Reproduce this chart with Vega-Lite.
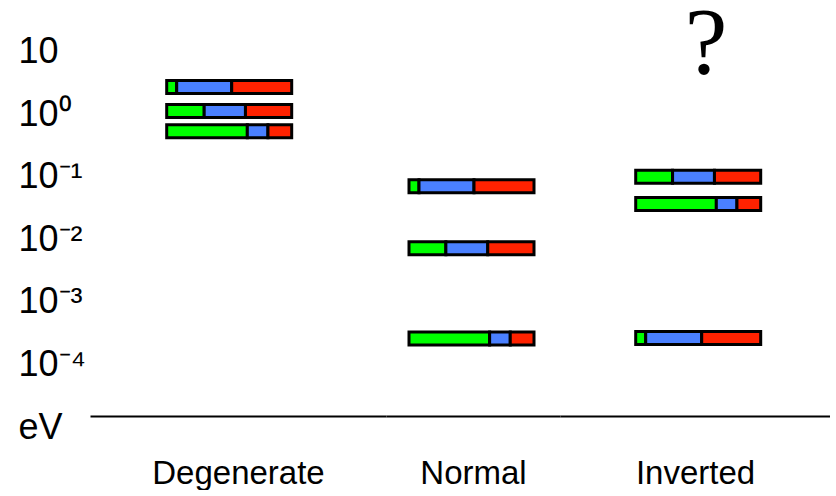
{
  "$schema": "https://vega.github.io/schema/vega-lite/v6.json",
  "padding": {"left": 18, "top": 0, "right": 0, "bottom": 0},
  "config": {"view": {"stroke": null}, "font": "Liberation Sans"},
  "spacing": 0,
  "bounds": "flush",
  "resolve": {"scale": {"x": "independent", "y": "independent", "color": "independent"}, "axis": {"x": "independent", "y": "independent"}},
  "datasets": {
    "bars": [
      {"scheme": "Degenerate", "state": "m3", "mass": 2.74, "flavor": "e", "frac": 0.08},
      {"scheme": "Degenerate", "state": "m3", "mass": 2.74, "flavor": "mu", "frac": 0.44},
      {"scheme": "Degenerate", "state": "m3", "mass": 2.74, "flavor": "tau", "frac": 0.48},
      {"scheme": "Degenerate", "state": "m2", "mass": 1.13, "flavor": "e", "frac": 0.3},
      {"scheme": "Degenerate", "state": "m2", "mass": 1.13, "flavor": "mu", "frac": 0.33},
      {"scheme": "Degenerate", "state": "m2", "mass": 1.13, "flavor": "tau", "frac": 0.37},
      {"scheme": "Degenerate", "state": "m1", "mass": 0.537, "flavor": "e", "frac": 0.645},
      {"scheme": "Degenerate", "state": "m1", "mass": 0.537, "flavor": "mu", "frac": 0.165},
      {"scheme": "Degenerate", "state": "m1", "mass": 0.537, "flavor": "tau", "frac": 0.19},
      {"scheme": "Normal", "state": "m3", "mass": 0.0711, "flavor": "e", "frac": 0.08},
      {"scheme": "Normal", "state": "m3", "mass": 0.0711, "flavor": "mu", "frac": 0.44},
      {"scheme": "Normal", "state": "m3", "mass": 0.0711, "flavor": "tau", "frac": 0.48},
      {"scheme": "Normal", "state": "m2", "mass": 0.00724, "flavor": "e", "frac": 0.295},
      {"scheme": "Normal", "state": "m2", "mass": 0.00724, "flavor": "mu", "frac": 0.335},
      {"scheme": "Normal", "state": "m2", "mass": 0.00724, "flavor": "tau", "frac": 0.37},
      {"scheme": "Normal", "state": "m1", "mass": 0.000261, "flavor": "e", "frac": 0.645},
      {"scheme": "Normal", "state": "m1", "mass": 0.000261, "flavor": "mu", "frac": 0.165},
      {"scheme": "Normal", "state": "m1", "mass": 0.000261, "flavor": "tau", "frac": 0.19},
      {"scheme": "Inverted", "state": "m2", "mass": 0.101, "flavor": "e", "frac": 0.295},
      {"scheme": "Inverted", "state": "m2", "mass": 0.101, "flavor": "mu", "frac": 0.335},
      {"scheme": "Inverted", "state": "m2", "mass": 0.101, "flavor": "tau", "frac": 0.37},
      {"scheme": "Inverted", "state": "m1", "mass": 0.0369, "flavor": "e", "frac": 0.645},
      {"scheme": "Inverted", "state": "m1", "mass": 0.0369, "flavor": "mu", "frac": 0.165},
      {"scheme": "Inverted", "state": "m1", "mass": 0.0369, "flavor": "tau", "frac": 0.19},
      {"scheme": "Inverted", "state": "m3", "mass": 0.000266, "flavor": "e", "frac": 0.08},
      {"scheme": "Inverted", "state": "m3", "mass": 0.000266, "flavor": "mu", "frac": 0.448},
      {"scheme": "Inverted", "state": "m3", "mass": 0.000266, "flavor": "tau", "frac": 0.472}
    ]
  },
  "hconcat": [
    {
      "width": 296, "height": 432,
      "data": {"name": "bars"},
      "transform": [
        {"filter": "datum.scheme === 'Degenerate'"},
        {"stack": "frac", "groupby": ["state"], "sort": [{"field": "flavor", "order": "ascending"}], "as": ["x0", "x1"]}
      ],
      "mark": {"type": "bar", "orient": "horizontal", "size": 13, "stroke": "black", "strokeWidth": 3},
      "encoding": {
        "x": {"field": "x0", "type": "quantitative", "scale": {"domain": [-0.6136, 1.7544], "nice": false, "zero": false},
          "axis": {"orient": "bottom", "offset": -16, "labels": false, "ticks": false, "grid": false, "domain": true, "domainColor": "black", "domainWidth": 2, "title": "Degenerate", "titleFont": "Liberation Sans", "titleFontSize": 33, "titleFontWeight": "normal", "titleColor": "black", "titlePadding": 41}},
        "x2": {"field": "x1"},
        "y": {"field": "mass", "type": "quantitative", "scale": {"type": "log", "domain": [0.00001, 56.2341], "nice": false},
          "axis": {"values": [0.00001, 0.0001, 0.001, 0.01, 0.1, 1, 10], "labelExpr": "datum.value >= 5 ? '10' : datum.value >= 0.5 ? '10⁰' : datum.value >= 0.05 ? '10⁻¹' : datum.value >= 0.005 ? '10⁻²' : datum.value >= 0.0005 ? '10⁻³' : datum.value >= 0.00005 ? '10⁻⁴' : 'eV'", "ticks": false, "domain": false, "grid": false, "title": null, "labelAlign": "left", "labelBaseline": "middle", "labelPadding": 72, "labelFont": "Liberation Sans", "labelFontSize": 36, "labelColor": "black", "labelFlush": false, "labelOverlap": false, "labelBound": false}},
        "color": {"field": "flavor", "type": "nominal", "scale": {"domain": ["e", "mu", "tau"], "range": ["#00ff00", "#4a80ff", "#ff2200"]}, "legend": null}
      }
    },
    {
      "width": 174, "height": 432,
      "data": {"name": "bars"},
      "transform": [
        {"filter": "datum.scheme === 'Normal'"},
        {"stack": "frac", "groupby": ["state"], "sort": [{"field": "flavor", "order": "ascending"}], "as": ["x0", "x1"]}
      ],
      "mark": {"type": "bar", "orient": "horizontal", "size": 13, "stroke": "black", "strokeWidth": 3},
      "encoding": {
        "x": {"field": "x0", "type": "quantitative", "scale": {"domain": [-0.184, 1.208], "nice": false, "zero": false},
          "axis": {"orient": "bottom", "offset": -16, "labels": false, "ticks": false, "grid": false, "domain": true, "domainColor": "black", "domainWidth": 2, "title": "Normal", "titleFont": "Liberation Sans", "titleFontSize": 33, "titleFontWeight": "normal", "titleColor": "black", "titlePadding": 41}},
        "x2": {"field": "x1"},
        "y": {"field": "mass", "type": "quantitative", "scale": {"type": "log", "domain": [0.00001, 56.2341], "nice": false}, "axis": null},
        "color": {"field": "flavor", "type": "nominal", "scale": {"domain": ["e", "mu", "tau"], "range": ["#00ff00", "#4a80ff", "#ff2200"]}, "legend": null}
      }
    },
    {
      "width": 270, "height": 432,
      "layer": [
        {
          "data": {"name": "bars"},
          "transform": [
            {"filter": "datum.scheme === 'Inverted'"},
            {"stack": "frac", "groupby": ["state"], "sort": [{"field": "flavor", "order": "ascending"}], "as": ["x0", "x1"]}
          ],
          "mark": {"type": "bar", "orient": "horizontal", "size": 13, "stroke": "black", "strokeWidth": 3},
          "encoding": {
            "x": {"field": "x0", "type": "quantitative", "scale": {"domain": [-0.6056, 1.5544], "nice": false, "zero": false},
              "axis": {"orient": "bottom", "offset": -16, "labels": false, "ticks": false, "grid": false, "domain": true, "domainColor": "black", "domainWidth": 2, "title": "Inverted", "titleFont": "Liberation Sans", "titleFontSize": 33, "titleFontWeight": "normal", "titleColor": "black", "titlePadding": 41}},
            "x2": {"field": "x1"},
            "y": {"field": "mass", "type": "quantitative", "scale": {"type": "log", "domain": [0.00001, 56.2341], "nice": false}, "axis": null},
            "color": {"field": "flavor", "type": "nominal", "scale": {"domain": ["e", "mu", "tau"], "range": ["#00ff00", "#4a80ff", "#ff2200"]}, "legend": null}
          }
        },
        {
          "data": {"values": [{"label": "?", "pos": 0.562, "mass": 4.37}]},
          "mark": {"type": "text", "font": "Liberation Serif", "fontSize": 96, "align": "center", "baseline": "alphabetic", "color": "black", "clip": true},
          "encoding": {
            "x": {"field": "pos", "type": "quantitative"},
            "y": {"field": "mass", "type": "quantitative"},
            "text": {"field": "label"}
          }
        }
      ]
    }
  ]
}
